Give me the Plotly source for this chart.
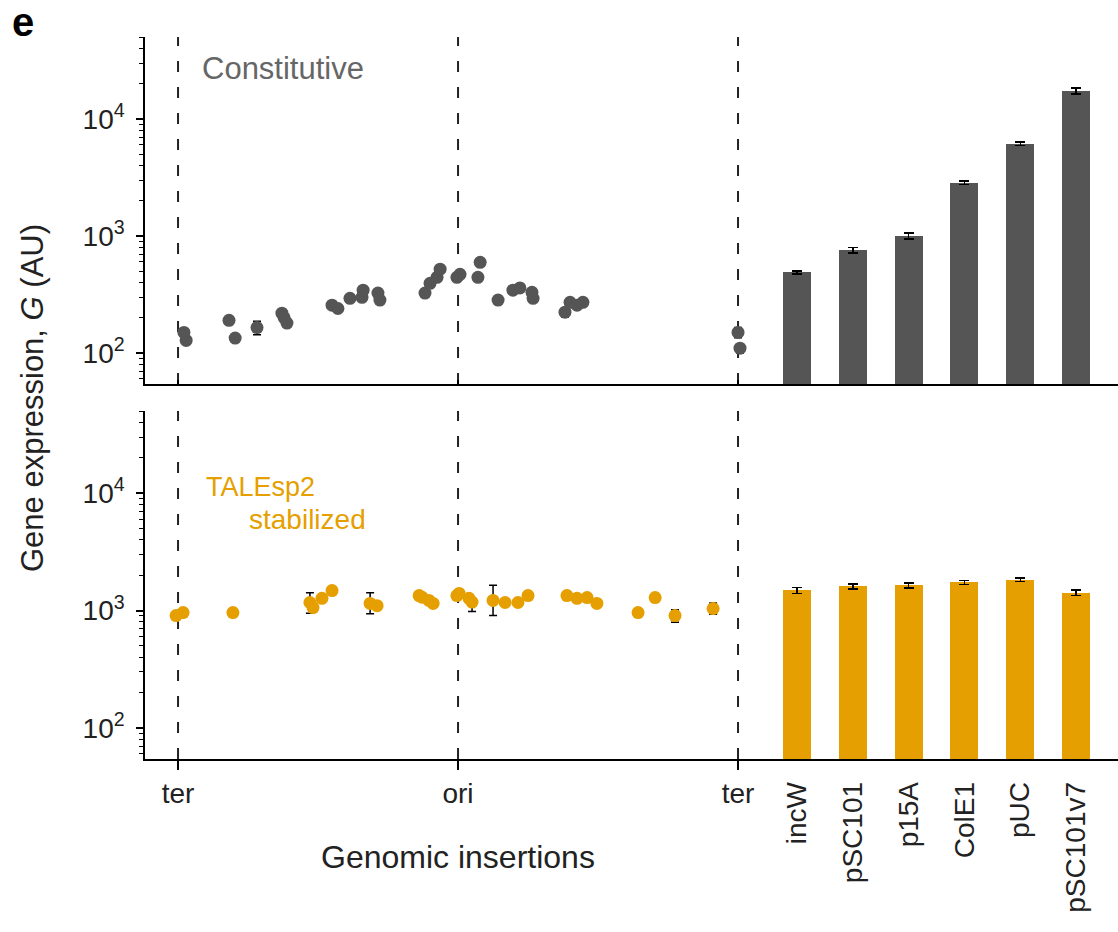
import plotly.graph_objects as go

# ---------------- data ----------------
# genomic position: 0 = ter, 1 = ori, 2 = ter
landmark_pos = [0, 1, 2]
landmark_labels = ["ter", "ori", "ter"]

const_pos = [0.021, 0.029, 0.182, 0.204, 0.282, 0.371, 0.379, 0.389, 0.55, 0.571,
             0.614, 0.657, 0.661, 0.714, 0.721, 0.882, 0.9, 0.925, 0.936, 0.996,
             1.007, 1.071, 1.079, 1.143, 1.196, 1.221, 1.264, 1.268, 1.382, 1.4,
             1.425, 1.446, 2.0, 2.007]
const_val = [150, 128, 190, 134, 165, 219, 200, 180, 256, 240,
             293, 299, 344, 325, 283, 325, 394, 443, 520, 443,
             470, 443, 595, 283, 344, 360, 330, 293, 223, 271,
             256, 271, 150, 110]
const_err = [10, 8, 15, 8, 22, 12, 10, 10, 12, 10,
             12, 12, 15, 14, 12, 14, 18, 20, 25, 20,
             20, 20, 25, 12, 15, 15, 14, 12, 20, 12,
             12, 12, 15, 10]

stab_pos = [-0.007, 0.018, 0.196, 0.471, 0.482, 0.514, 0.55, 0.686, 0.711, 0.861,
            0.871, 0.896, 0.911, 0.996, 1.004, 1.039, 1.05, 1.125, 1.168, 1.214,
            1.25, 1.389, 1.425, 1.461, 1.496, 1.643, 1.704, 1.775, 1.911]
stab_val = [905, 960, 960, 1170, 1060, 1270, 1480, 1150, 1100, 1340,
            1300, 1220, 1150, 1340, 1400, 1270, 1180, 1220, 1170, 1170,
            1340, 1340, 1270, 1290, 1150, 960, 1290, 905, 1040]
stab_err_plus = [30, 30, 30, 250, 40, 40, 40, 270, 40, 90,
                 40, 40, 40, 40, 40, 40, 40, 420, 40, 40,
                 40, 40, 40, 40, 40, 30, 40, 110, 120]
stab_err_minus = [30, 30, 30, 220, 40, 40, 40, 210, 40, 60,
                  40, 40, 40, 40, 40, 40, 200, 315, 40, 40,
                  40, 40, 40, 40, 40, 30, 40, 110, 110]

plasmids = ["incW", "pSC101", "p15A", "ColE1", "pUC", "pSC101v7"]
plasmid_const = [489, 753, 1000, 2850, 6120, 17300]
plasmid_const_err = [15, 40, 60, 110, 200, 1000]
plasmid_stab = [1483, 1604, 1636, 1735, 1830, 1417]
plasmid_stab_err = [90, 80, 80, 70, 70, 80]

ytick_vals = [100, 1000, 10000]
ytick_text = ["10<sup>2</sup>", "10<sup>3</sup>", "10<sup>4</sup>"]
yminor_vals = [60, 70, 80, 90, 200, 300, 400, 500, 600, 700, 800, 900,
               2000, 3000, 4000, 5000, 6000, 7000, 8000, 9000,
               20000, 30000, 40000, 50000]

# ---------------- style ----------------
GREY = "#555555"
ORANGE = "#E69F00"
FONT = "Liberation Sans, Arial, sans-serif"
TXT = "#222222"
W, H = 1118, 932

def px_x(p):
    return p / W

def px_y(p):
    return 1 - p / H

X_SC = [px_x(145), px_x(769)]
X_BAR = [px_x(769), 1.0]
Y_TOP = [px_y(384), px_y(37)]
Y_BOT = [px_y(759), px_y(411)]
YRANGE = [1.735, 4.70]
XRANGE_SC = [-0.118, 2.1106]
XRANGE_BAR = [-0.5, 5.75]

fig = go.Figure()

fig.add_trace(go.Scatter(
    x=const_pos, y=const_val, mode="markers",
    marker=dict(color=GREY, size=13),
    error_y=dict(type="data", array=const_err, color="black", thickness=1.5, width=4),
    xaxis="x", yaxis="y", showlegend=False))
fig.add_trace(go.Bar(
    x=plasmids, y=plasmid_const, marker=dict(color=GREY, line=dict(width=0)), width=0.5,
    error_y=dict(type="data", array=plasmid_const_err, color="black", thickness=1.5, width=5),
    xaxis="x2", yaxis="y2", showlegend=False))
fig.add_trace(go.Scatter(
    x=stab_pos, y=stab_val, mode="markers",
    marker=dict(color=ORANGE, size=13),
    error_y=dict(type="data", array=stab_err_plus, arrayminus=stab_err_minus,
                 color="black", thickness=1.5, width=4),
    xaxis="x3", yaxis="y3", showlegend=False))
fig.add_trace(go.Bar(
    x=plasmids, y=plasmid_stab, marker=dict(color=ORANGE, line=dict(width=0)), width=0.5,
    error_y=dict(type="data", array=plasmid_stab_err, color="black", thickness=1.5, width=5),
    xaxis="x4", yaxis="y4", showlegend=False))

yaxis_common = dict(
    type="log", range=YRANGE, showgrid=False, zeroline=False,
    showline=True, linecolor="black", linewidth=1.5,
    ticks="outside", ticklen=7, tickwidth=1.5, tickcolor="black",
    ticklabelstandoff=6,
    tickmode="array", tickvals=ytick_vals, ticktext=ytick_text,
    tickfont=dict(family=FONT, size=28, color=TXT),
    minor=dict(tickmode="array", tickvals=yminor_vals, ticks="outside",
               ticklen=4, tickwidth=1.2, tickcolor="black", showgrid=False),
)
yaxis_hidden = dict(type="log", range=YRANGE, showgrid=False, zeroline=False,
                    showline=False, showticklabels=False, ticks="")

xsc_common = dict(
    range=XRANGE_SC, showgrid=False, zeroline=False,
    showline=True, linecolor="black", linewidth=1.5,
    tickmode="array", tickvals=landmark_pos, ticktext=landmark_labels,
)
xbar_common = dict(
    range=XRANGE_BAR, showgrid=False, zeroline=False, type="category",
    showline=True, linecolor="black", linewidth=1.5,
)

fig.update_layout(
    width=W, height=H,
    margin=dict(l=0, r=0, t=0, b=0),
    plot_bgcolor="white", paper_bgcolor="white",
    font=dict(family=FONT, size=28, color=TXT),
    bargap=0,
    xaxis=dict(domain=X_SC, anchor="y", showticklabels=False, ticks="inside",
               ticklen=4, tickwidth=1.5, tickcolor="black", **xsc_common),
    yaxis=dict(domain=Y_TOP, anchor="x", **yaxis_common),
    xaxis2=dict(domain=X_BAR, anchor="y2", showticklabels=False, ticks="", **xbar_common),
    yaxis2=dict(domain=Y_TOP, anchor="x2", **yaxis_hidden),
    xaxis3=dict(domain=X_SC, anchor="y3", showticklabels=True, ticks="outside",
                ticklen=9, tickwidth=1.5, tickcolor="black",
                tickfont=dict(family=FONT, size=28, color=TXT), **xsc_common),
    yaxis3=dict(domain=Y_BOT, anchor="x3", **yaxis_common),
    xaxis4=dict(domain=X_BAR, anchor="y4", showticklabels=True, tickangle=-90,
                ticks="outside", ticklen=10, tickcolor="rgba(0,0,0,0)",
                tickfont=dict(family=FONT, size=28, color=TXT), **xbar_common),
    yaxis4=dict(domain=Y_BOT, anchor="x4", **yaxis_hidden),
)

for p in landmark_pos:
    for xr, yr in (("x", "y domain"), ("x3", "y3 domain")):
        fig.add_shape(type="line", xref=xr, yref=yr, x0=p, x1=p, y0=0, y1=1,
                      line=dict(color="#222", width=2, dash="11px,15px"), layer="below")

ann = [
    dict(text="Constitutive", x=px_x(200), y=px_y(68), xanchor="left", yanchor="middle",
         font=dict(size=31, color="#666666")),
    dict(text="TALEsp2", x=px_x(204), y=px_y(487), xanchor="left", yanchor="middle",
         font=dict(size=27, color=ORANGE)),
    dict(text="stabilized", x=px_x(247), y=px_y(519), xanchor="left", yanchor="middle",
         font=dict(size=28, color=ORANGE)),
    dict(text="Gene expression, <i>G</i> (AU)", x=px_x(32), y=px_y(398), textangle=-90,
         xanchor="center", yanchor="middle", font=dict(size=31, color=TXT)),
    dict(text="Genomic insertions", x=px_x(458), y=px_y(857), xanchor="center",
         yanchor="middle", font=dict(size=32, color=TXT)),
    dict(text="<b>e</b>", x=px_x(10), y=px_y(22), xanchor="left", yanchor="middle",
         font=dict(size=40, color="black")),
]
for a in ann:
    fig.add_annotation(xref="paper", yref="paper", showarrow=False, **a)

fig.write_html("out.html")
